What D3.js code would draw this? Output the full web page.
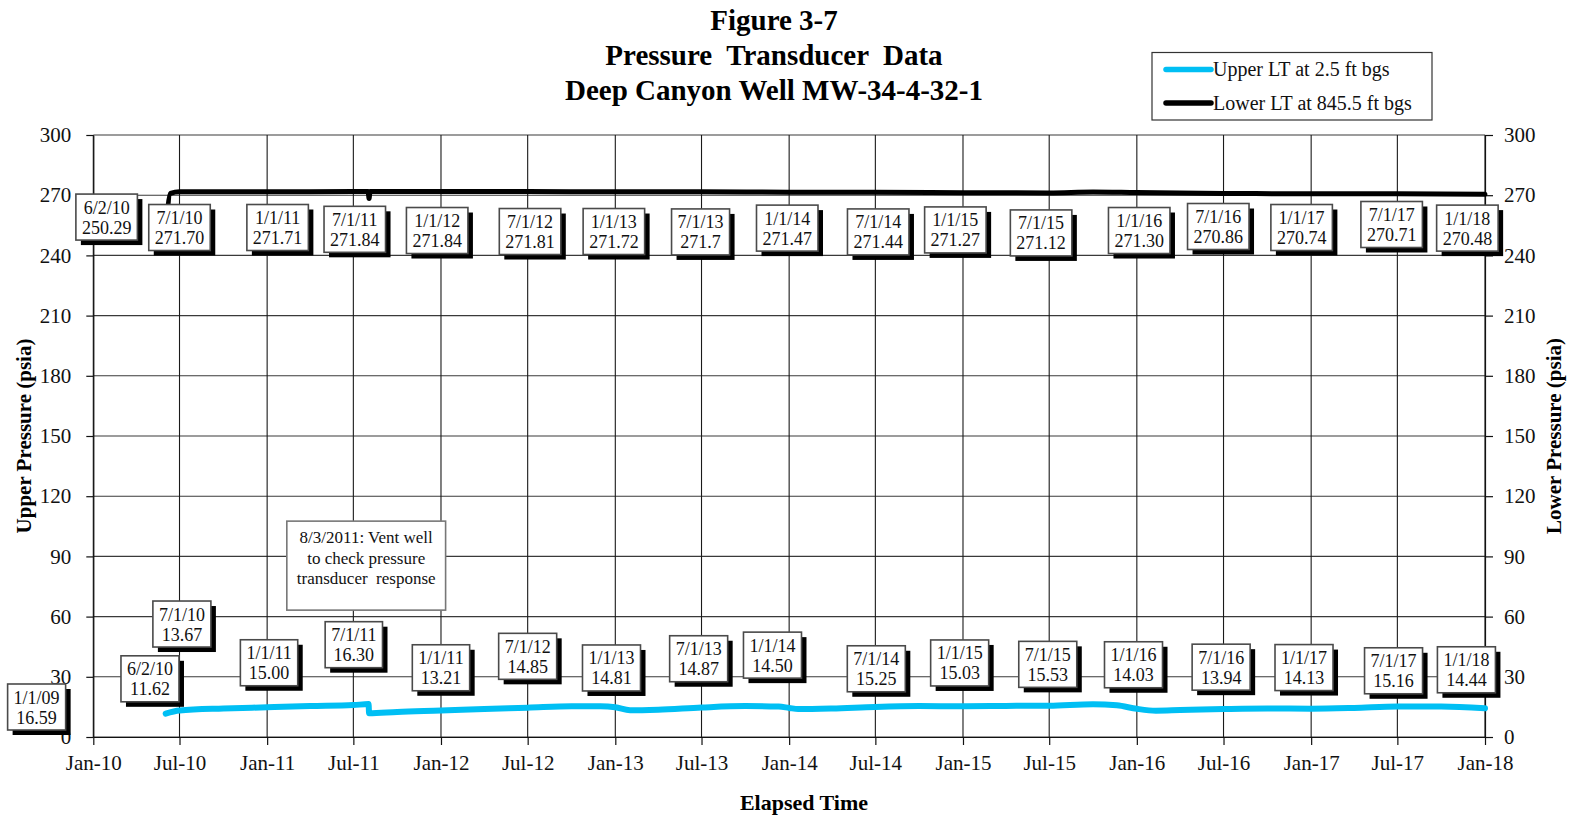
<!DOCTYPE html>
<html><head><meta charset="utf-8">
<script src="https://cdn.jsdelivr.net/npm/d3@7"></script>
<style>
html,body{margin:0;padding:0;background:#fff;}
svg{display:block;font-family:"Liberation Serif","Times New Roman",serif;}
</style></head><body>
<svg id="chart" width="1570" height="819"></svg>
<script>
// ---------------- data ----------------
const titleLines = ["Figure 3-7", "Pressure  Transducer  Data", "Deep Canyon Well MW-34-4-32-1"];
const xAxisTitle = "Elapsed Time";
const yLeftTitle = "Upper Pressure (psia)";
const yRightTitle = "Lower Pressure (psia)";
const seriesNames = ["Upper LT at 2.5 ft bgs", "Lower LT at 845.5 ft bgs"];

const xTickDates = ["2010-01-01","2010-07-01","2011-01-01","2011-07-01","2012-01-01","2012-07-01",
  "2013-01-01","2013-07-01","2014-01-01","2014-07-01","2015-01-01","2015-07-01","2016-01-01",
  "2016-07-01","2017-01-01","2017-07-01","2018-01-01"];
const yTicks = [0,30,60,90,120,150,180,210,240,270,300];

// Upper LT (psia)
const upperDates = ["2010-06-02","2010-07-01","2010-10-01","2011-01-01","2011-04-01","2011-07-01","2011-08-02",
  "2011-08-03","2011-10-01","2012-01-01","2012-04-01","2012-07-01","2012-10-01","2012-12-01","2013-01-01",
  "2013-02-01","2013-04-01","2013-07-01","2013-10-01","2013-12-10","2014-01-01","2014-01-20","2014-04-01",
  "2014-07-01","2014-10-01","2015-01-01","2015-04-01","2015-07-01","2015-10-01","2015-11-20","2016-01-01",
  "2016-02-10","2016-04-01","2016-07-01","2016-10-01","2017-01-01","2017-04-01","2017-07-01","2017-10-01",
  "2018-01-01"];
const upperValues = [11.62,13.2,14.2,14.8,15.4,15.9,16.4,
  11.8,12.5,13.21,14.0,14.6,15.3,15.3,14.81,
  13.3,13.6,14.7,15.4,15.2,14.5,13.9,14.2,
  15.0,15.4,15.3,15.5,15.6,16.3,15.8,14.03,
  13.1,13.4,13.9,14.2,14.13,14.5,15.16,15.2,
  14.3];

// Lower LT (psia)
const lowerDates = ["2010-06-02","2010-06-12","2010-07-01","2011-01-01","2011-07-01","2011-08-01","2011-08-03",
  "2011-08-05","2012-01-01","2012-07-01","2013-01-01","2013-07-01","2014-01-01","2014-07-01","2015-01-01",
  "2015-07-01","2015-10-01","2016-01-01","2016-07-01","2017-01-01","2017-07-01","2018-01-01"];
const lowerValues = [250.29,270.9,271.70,271.71,271.84,271.84,268.3,
  271.84,271.84,271.81,271.72,271.70,271.47,271.44,271.27,
  271.12,271.6,271.30,270.86,270.74,270.71,270.48];

// callout label texts
const upperLabelText = [["1/1/09","16.59"],["6/2/10","11.62"],["7/1/10","13.67"],["1/1/11","15.00"],
  ["7/1/11","16.30"],["1/1/11","13.21"],["7/1/12","14.85"],["1/1/13","14.81"],["7/1/13","14.87"],
  ["1/1/14","14.50"],["7/1/14","15.25"],["1/1/15","15.03"],["7/1/15","15.53"],["1/1/16","14.03"],
  ["7/1/16","13.94"],["1/1/17","14.13"],["7/1/17","15.16"],["1/1/18","14.44"]];
const lowerLabelText = [["6/2/10","250.29"],["7/1/10","271.70"],["1/1/11","271.71"],["7/1/11","271.84"],
  ["1/1/12","271.84"],["7/1/12","271.81"],["1/1/13","271.72"],["7/1/13","271.7"],["1/1/14","271.47"],
  ["7/1/14","271.44"],["1/1/15","271.27"],["7/1/15","271.12"],["1/1/16","271.30"],["7/1/16","270.86"],
  ["1/1/17","270.74"],["7/1/17","270.71"],["1/1/18","270.48"]];
const noteText = ["8/3/2011: Vent well", "to check pressure", "transducer  response"];

// ---------------- layout (label centres in data coordinates) ----------------
const upperLabelAt = [["2009-09-04",14.95],["2010-04-30",29.0],["2010-07-06",56.3],["2011-01-05",37.0],
  ["2011-07-02",46.0],["2012-01-01",34.5],["2012-07-01",40.2],["2012-12-24",34.4],["2013-06-25",39.0],
  ["2013-11-27",40.8],["2014-07-03",34.0],["2014-12-25",36.9],["2015-06-28",36.2],["2015-12-25",36.0],
  ["2016-06-26",34.8],["2016-12-17",34.6],["2017-06-23",33.0],["2017-11-23",33.5]];
const lowerLabelAt = [["2010-01-29",259.1],["2010-07-01",253.9],["2011-01-23",253.9],["2011-07-04",253.0],
  ["2011-12-24",252.4],["2012-07-06",251.9],["2012-12-29",251.9],["2013-06-29",251.7],["2013-12-28",253.6],
  ["2014-07-07",251.7],["2014-12-16",252.7],["2015-06-14",251.2],["2016-01-06",252.4],["2016-06-20",254.4],
  ["2016-12-12",253.9],["2017-06-19",255.4],["2017-11-25",253.6]];
const noteAt = ["2011-07-28", 85.4];

// ---------------- drawing ----------------
const W = 1570, H = 819;
const plot = {left: 93.3, right: 1485, top: 135, bottom: 737};
const parse = d3.utcParse("%Y-%m-%d");
const cyan = "#00BFF4";

const svg = d3.select("#chart");
const x = d3.scaleUtc().domain([parse("2010-01-01"), parse("2018-01-01")]).range([plot.left, plot.right]);
const y = d3.scaleLinear().domain([0, 300]).range([plot.bottom, plot.top]);

// title
svg.append("g").selectAll("text").data(titleLines).join("text")
  .attr("x", 774).attr("y", (d, i) => 30 + i * 35)
  .attr("text-anchor", "middle").style("white-space", "pre").attr("xml:space", "preserve")
  .attr("font-size", 29).attr("font-weight", "bold").text(d => d);

// grid
const grid = svg.append("g");
grid.selectAll("line.h").data(yTicks).join("line").attr("class", "h")
  .attr("x1", plot.left).attr("x2", plot.right).attr("y1", d => y(d)).attr("y2", d => y(d))
  .attr("stroke", "#3a3a3a").attr("stroke-width", 1.1);
grid.selectAll("line.v").data(xTickDates).join("line").attr("class", "v")
  .attr("y1", plot.top).attr("y2", plot.bottom).attr("x1", d => x(parse(d))).attr("x2", d => x(parse(d)))
  .attr("stroke", "#1a1a1a").attr("stroke-width", 1.1);

// axes
function styleAxis(g) {
  g.selectAll("path.domain").attr("stroke", "#111").attr("stroke-width", 1.2);
  g.selectAll(".tick line").attr("stroke", "#111").attr("stroke-width", 1.2);
  g.selectAll(".tick text").attr("fill", "#111").attr("font-size", 21)
    .attr("font-family", "'Liberation Serif','Times New Roman',serif");
}
svg.append("g").attr("transform", `translate(0,${plot.bottom})`)
  .call(d3.axisBottom(x).tickValues(xTickDates.map(parse)).tickFormat(d3.utcFormat("%b-%y"))
    .tickSize(8).tickPadding(10).tickSizeOuter(0))
  .call(styleAxis);
svg.append("g").attr("transform", `translate(${plot.left},0)`)
  .call(d3.axisLeft(y).tickValues(yTicks).tickSize(7).tickPadding(15).tickSizeOuter(0))
  .call(styleAxis);
svg.append("g").attr("transform", `translate(${plot.right},0)`)
  .call(d3.axisRight(y).tickValues(yTicks).tickSize(8).tickPadding(11).tickSizeOuter(0))
  .call(styleAxis);

// axis titles
svg.append("text").attr("x", 804).attr("y", 810).attr("text-anchor", "middle")
  .attr("font-size", 22).attr("font-weight", "bold").text(xAxisTitle);
svg.append("text").attr("transform", "translate(31,436) rotate(-90)").attr("text-anchor", "middle")
  .attr("font-size", 21).attr("font-weight", "bold").text(yLeftTitle);
svg.append("text").attr("transform", "translate(1561,436) rotate(-90)").attr("text-anchor", "middle")
  .attr("font-size", 21).attr("font-weight", "bold").text(yRightTitle);

// series lines
const line = d3.line().x(d => x(d[0])).y(d => y(d[1])).curve(d3.curveMonotoneX);
const upper = upperDates.map((d, i) => [parse(d), upperValues[i]]);
const lower = lowerDates.map((d, i) => [parse(d), lowerValues[i]]);
svg.append("path").datum(lower).attr("d", line).attr("fill", "none").attr("stroke", "#000")
  .attr("stroke-width", 5).attr("stroke-linejoin", "round").attr("stroke-linecap", "round");
svg.append("path").datum(upper).attr("d", line).attr("fill", "none").attr("stroke", cyan)
  .attr("stroke-width", 6).attr("stroke-linejoin", "round").attr("stroke-linecap", "round");

// callout boxes
function callouts(texts, anchors) {
  const g = svg.append("g");
  texts.forEach((t, i) => {
    const cx = x(parse(anchors[i][0])), cy = y(anchors[i][1]);
    const b = g.append("g");
    const shadow = b.append("rect").attr("fill", "#000");
    const box = b.append("rect").attr("fill", "#fff").attr("stroke", "#4a4a4a").attr("stroke-width", 1.6);
    const t1 = b.append("text").attr("x", cx).attr("y", cy - 3.5).attr("text-anchor", "middle")
      .attr("font-size", 18).attr("fill", "#111").text(t[0]);
    const t2 = b.append("text").attr("x", cx).attr("y", cy + 16.5).attr("text-anchor", "middle")
      .attr("font-size", 18).attr("fill", "#111").text(t[1]);
    const w = Math.max(t1.node().getComputedTextLength(), t2.node().getComputedTextLength()) + 12;
    const h = 46;
    box.attr("x", cx - w / 2).attr("y", cy - h / 2).attr("width", w).attr("height", h);
    shadow.attr("x", cx - w / 2 + 5).attr("y", cy - h / 2 + 5).attr("width", w).attr("height", h);
  });
}
callouts(lowerLabelText, lowerLabelAt);
callouts(upperLabelText, upperLabelAt);

// note box
{
  const cx = x(parse(noteAt[0])), cy = y(noteAt[1]);
  const g = svg.append("g");
  const box = g.append("rect").attr("fill", "#fff").attr("stroke", "#777").attr("stroke-width", 1.6);
  const lh = 20.5;
  const ts = g.selectAll("text").data(noteText).join("text")
    .attr("x", cx).attr("y", (d, i) => cy - 12.5 + (i - 0.5) * lh + 0.5)
    .attr("text-anchor", "middle").attr("font-size", 17).attr("fill", "#111")
    .attr("xml:space", "preserve").style("white-space", "pre").text(d => d);
  let mw = 0; ts.each(function () { mw = Math.max(mw, this.getComputedTextLength()); });
  const w = mw + 20, h = 89;
  box.attr("x", cx - w / 2).attr("y", cy - h / 2).attr("width", w).attr("height", h);
}

// legend
{
  const g = svg.append("g");
  g.append("rect").attr("x", 1152).attr("y", 52.5).attr("width", 280).attr("height", 67.5)
    .attr("fill", "#fff").attr("stroke", "#333").attr("stroke-width", 1.2);
  const colors = [cyan, "#000"];
  seriesNames.forEach((n, i) => {
    const yy = 69.5 + i * 33.5;
    g.append("line").attr("x1", 1166).attr("x2", 1211).attr("y1", yy).attr("y2", yy)
      .attr("stroke", colors[i]).attr("stroke-width", 5.5).attr("stroke-linecap", "round");
    g.append("text").attr("x", 1213).attr("y", yy).attr("dy", "0.33em").attr("font-size", 20)
      .attr("fill", "#111").text(n);
  });
}
</script>
</body></html>
